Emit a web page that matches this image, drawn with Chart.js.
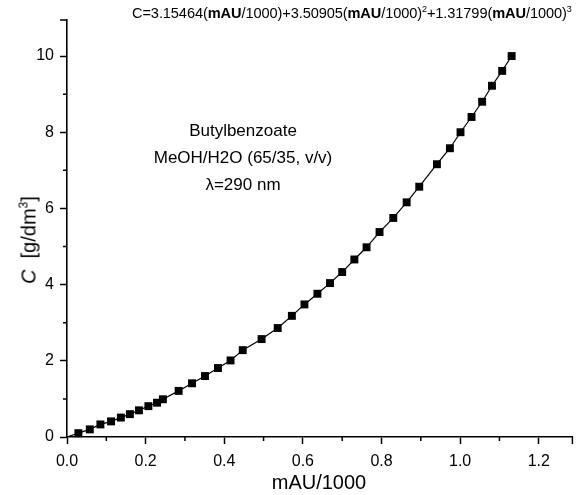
<!DOCTYPE html>
<html>
<head>
<meta charset="utf-8">
<script src="https://cdn.jsdelivr.net/npm/chart.js@4/dist/chart.umd.min.js"></script>
<style>
  html, body { margin: 0; padding: 0; background: #fff; }
  #wrap { position: relative; width: 578px; height: 495px; font-family: "Liberation Sans", Arial, sans-serif; color: #000; }
  #c { position: absolute; left: 0; top: 0; }
  .t { position: absolute; white-space: nowrap; }
  #formula { left: 132px; top: 5px; font-size: 14.6px; letter-spacing: -0.1px; }
  #formula sup { font-size: 9px; vertical-align: 6px; line-height: 0; }
  #note { left: 143px; top: 117px; width: 200px; text-align: center; font-size: 17px; line-height: 27px; }
  #xtitle { left: 0; width: 578px; top: 471px; text-align: center; font-size: 20px; padding-left: 60px; box-sizing: border-box; }
  #ytitle { left: 29px; top: 240px; font-size: 20px; transform: translate(-50%, -50%) rotate(-90deg); }
  #ytitle sup { font-size: 12px; vertical-align: 8px; line-height: 0; }
</style>
</head>
<body>
<div id="wrap">
  <canvas id="c" width="578" height="495"></canvas>
  <div class="t" id="formula">C=3.15464(<b>mAU</b>/1000)+3.50905(<b>mAU</b>/1000)<sup>2</sup>+1.31799(<b>mAU</b>/1000)<sup>3</sup></div>
  <div class="t" id="note">Butylbenzoate<br>MeOH/H2O (65/35, v/v)<br>λ=290 nm</div>
  <div class="t" id="xtitle">mAU/1000</div>
  <div class="t" id="ytitle"><i>C</i>&nbsp; [g/dm<sup>3</sup>]</div>
</div>
<script>
// Data
const absorbance = [0, 0.029, 0.058, 0.085, 0.112, 0.137, 0.160, 0.183, 0.207, 0.229, 0.244,
  0.284, 0.318, 0.351, 0.384, 0.416, 0.447, 0.495, 0.536, 0.572, 0.604, 0.637, 0.669, 0.700,
  0.731, 0.762, 0.795, 0.830, 0.864, 0.896, 0.941, 0.974, 1.001, 1.029, 1.056, 1.081, 1.107, 1.131];
const concentration = [0, 0.10, 0.20, 0.33, 0.41, 0.51, 0.60, 0.70, 0.81, 0.90, 0.99,
  1.21, 1.41, 1.60, 1.81, 2.01, 2.28, 2.57, 2.86, 3.18, 3.48, 3.76, 4.04, 4.33,
  4.66, 4.98, 5.38, 5.75, 6.16, 6.57, 7.16, 7.58, 8.00, 8.40, 8.80, 9.22, 9.61, 10.00];
const xTickLabels = ['0.0', '0.2', '0.4', '0.6', '0.8', '1.0', '1.2'];
const yTickLabels = ['0', '2', '4', '6', '8', '10'];
const xMinorTicks = [0.1, 0.3, 0.5, 0.7, 0.9, 1.1];
const yMinorTicks = [1, 3, 5, 7, 9];

const X_MAX = 1.2856, Y_MAX = 10.946;

const points = absorbance.map((x, i) => ({ x: x, y: concentration[i] }));

const extraTicks = {
  id: 'extraTicks',
  afterDraw(chart) {
    const ctx = chart.ctx;
    const xs = chart.scales.x, ys = chart.scales.y;
    const ca = chart.chartArea;
    ctx.save();
    ctx.strokeStyle = '#000';
    ctx.lineWidth = 1.5;
    ctx.beginPath();
    xMinorTicks.forEach(v => {
      const px = xs.getPixelForValue(v);
      ctx.moveTo(px, ca.bottom); ctx.lineTo(px, ca.bottom + 4);
    });
    yMinorTicks.forEach(v => {
      const py = ys.getPixelForValue(v);
      ctx.moveTo(ca.left, py); ctx.lineTo(ca.left - 4, py);
    });
    // end caps
    ctx.moveTo(ca.right, ca.bottom); ctx.lineTo(ca.right, ca.bottom + 7);
    ctx.moveTo(ca.left, ca.top); ctx.lineTo(ca.left - 7, ca.top);
    ctx.stroke();
    ctx.restore();
  }
};

new Chart(document.getElementById('c'), {
  type: 'scatter',
  data: {
    datasets: [{
      data: points,
      showLine: true,
      borderColor: '#000',
      borderWidth: 1.2,
      backgroundColor: '#000',
      pointStyle: 'rect',
      pointRadius: points.map((p, i) => i === 0 ? 0 : 5.6),
      pointBorderWidth: 0,
      pointBackgroundColor: '#000',
      tension: 0
    }]
  },
  options: {
    responsive: false,
    animation: false,
    devicePixelRatio: 1,
    clip: false,
    layout: { padding: { left: 0, top: 20, right: 5, bottom: 0 } },
    plugins: { legend: { display: false }, tooltip: { enabled: false } },
    scales: {
      x: {
        type: 'linear', min: 0, max: X_MAX,
        afterFit: s => { s.height = 58; },
        border: { display: true, color: '#000', width: 1.6 },
        grid: { display: true, drawOnChartArea: false, drawTicks: true, tickLength: 7, tickColor: '#000', tickWidth: 1.5 },
        ticks: {
          stepSize: 0.2, includeBounds: false, autoSkip: false, maxRotation: 0,
          color: '#000', padding: 8,
          font: { family: '"Liberation Sans", Arial, sans-serif', size: 16 },
          callback: (v) => { const i = Math.round(v / 0.2); return xTickLabels[i] !== undefined ? xTickLabels[i] : ''; }
        }
      },
      y: {
        type: 'linear', min: 0, max: Y_MAX,
        afterFit: s => { s.width = 67; },
        border: { display: true, color: '#000', width: 1.6 },
        grid: { display: true, drawOnChartArea: false, drawTicks: true, tickLength: 7, tickColor: '#000', tickWidth: 1.5 },
        ticks: {
          stepSize: 2, includeBounds: false, autoSkip: false,
          color: '#000', padding: 6,
          font: { family: '"Liberation Sans", Arial, sans-serif', size: 16 },
          callback: (v) => { const i = Math.round(v / 2); return yTickLabels[i] !== undefined ? yTickLabels[i] : ''; }
        }
      }
    }
  },
  plugins: [extraTicks]
});
</script>
</body>
</html>
